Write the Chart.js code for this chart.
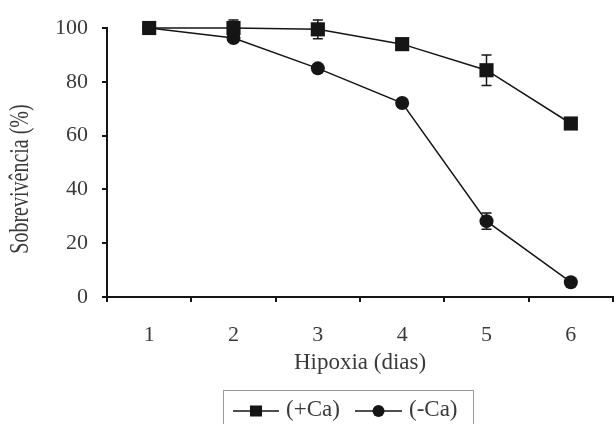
<!DOCTYPE html>
<html><head><meta charset="utf-8">
<script src="https://cdn.jsdelivr.net/npm/chart.js@4"></script>
<style>html,body{margin:0;padding:0;background:#fff}#wrap{width:616px;height:424px;position:relative}</style>
</head><body><div id="wrap"><canvas id="c" width="616" height="424"></canvas></div>
<script>
const categories = ['1', '2', '3', '4', '5', '6'];
const withCa = [100, 100, 99.5, 94, 84.3, 64.5];
const withCaErr = [0, 3, 3.5, 1, 5.7, 1];
const withoutCa = [100, 96.3, 85, 72.1, 28.2, 5.5];
const withoutCaErr = [0, 0, 0, 1, 3, 0];
const yTicks = [0, 20, 40, 60, 80, 100];
const seriesNames = ['(+Ca)', '(-Ca)'];
const xTitle = 'Hipoxia (dias)';
const yTitle = 'Sobrevivência (%)';

const FONT = "'Liberation Serif', 'Times New Roman', Times, serif";
const TXT = '#3a3a3a';
const INK = '#151515';

const errorBars = {
  id: 'errorBars',
  beforeDatasetsDraw(chart) {
    const ctx = chart.ctx, ys = chart.scales.y;
    chart.data.datasets.forEach((ds, di) => {
      const meta = chart.getDatasetMeta(di);
      (ds.errors || []).forEach((e, i) => {
        if (!e) return;
        const pt = meta.data[i];
        const top = ys.getPixelForValue(ds.data[i] + e);
        const bot = ys.getPixelForValue(ds.data[i] - e);
        ctx.save();
        ctx.strokeStyle = INK; ctx.lineWidth = 1.5;
        ctx.beginPath();
        ctx.moveTo(pt.x, top); ctx.lineTo(pt.x, bot);
        ctx.moveTo(pt.x - 5, top); ctx.lineTo(pt.x + 5, top);
        ctx.moveTo(pt.x - 5, bot); ctx.lineTo(pt.x + 5, bot);
        ctx.stroke();
        ctx.restore();
      });
    });
  }
};

const yTitlePlugin = {
  id: 'yTitlePlugin',
  afterDraw(chart) {
    const ctx = chart.ctx;
    ctx.save();
    ctx.translate(21, 179);
    ctx.rotate(-Math.PI / 2);
    ctx.scale(1, 1.35);
    ctx.font = '20px ' + FONT;
    ctx.fillStyle = TXT;
    ctx.textAlign = 'center';
    ctx.textBaseline = 'middle';
    ctx.fillText(yTitle, 0, 0);
    ctx.restore();
  }
};

const boxLegend = {
  id: 'boxLegend',
  afterDraw(chart) {
    const ctx = chart.ctx;
    ctx.save();
    ctx.strokeStyle = '#9a9a9a'; ctx.lineWidth = 1;
    ctx.strokeRect(223.5, 390.5, 250, 60);
    ctx.font = '23px ' + FONT;
    ctx.textBaseline = 'middle';
    const items = [
      {x0: 233, x1: 279, style: 'rect', tx: 286},
      {x0: 355, x1: 402, style: 'circle', tx: 409}
    ];
    const y = 411;
    items.forEach((it, i) => {
      ctx.strokeStyle = INK; ctx.lineWidth = 1.5;
      ctx.beginPath(); ctx.moveTo(it.x0, y); ctx.lineTo(it.x1, y); ctx.stroke();
      ctx.fillStyle = INK;
      const cx = (it.x0 + it.x1) / 2;
      if (it.style === 'rect') ctx.fillRect(cx - 6, y - 5.5, 12, 11);
      else { ctx.beginPath(); ctx.arc(cx, y, 6, 0, Math.PI * 2); ctx.fill(); }
      ctx.fillStyle = TXT;
      ctx.fillText(chart.data.datasets[i].label, it.tx, y - 1);
    });
    ctx.restore();
  }
};

function draw() {
  new Chart(document.getElementById('c'), {
    type: 'line',
    data: {
      labels: categories,
      datasets: [
        {label: seriesNames[0], data: withCa, errors: withCaErr, borderColor: INK, backgroundColor: INK,
         borderWidth: 1.5, pointStyle: 'rect', pointRadius: 10, pointBorderWidth: 0, tension: 0, clip: false},
        {label: seriesNames[1], data: withoutCa, errors: withoutCaErr, borderColor: INK, backgroundColor: INK,
         borderWidth: 1.5, pointStyle: 'circle', pointRadius: 7, pointBorderWidth: 0, tension: 0, clip: false}
      ]
    },
    options: {
      responsive: false,
      animation: false,
      devicePixelRatio: 1,
      layout: {autoPadding: false, padding: {top: 28, right: 3, bottom: 47, left: 0}},
      plugins: {legend: {display: false}, tooltip: {enabled: false}},
      scales: {
        x: {
          type: 'category',
          offset: true,
          grid: {offset: true, drawOnChartArea: false, drawTicks: true, tickLength: 5, color: INK, lineWidth: 2},
          border: {display: true, color: INK, width: 2},
          ticks: {font: {family: FONT, size: 22}, color: TXT, padding: 20, maxRotation: 0},
          title: {display: true, text: xTitle, font: {family: FONT, size: 23}, color: TXT, padding: {top: 0, bottom: 0}},
          afterFit(s) { s.height = 80; s.paddingLeft = 0; s.paddingRight = 0; }
        },
        y: {
          min: 0, max: 100,
          grid: {drawOnChartArea: false, drawTicks: true, tickLength: 5, color: INK, lineWidth: 2},
          border: {display: true, color: INK, width: 2},
          ticks: {font: {family: FONT, size: 22}, color: TXT, padding: 14},
          afterBuildTicks(s) { s.ticks = yTicks.map(v => ({value: v})); },
          title: {display: false},
          afterFit(s) { s.width = 107; }
        }
      }
    },
    plugins: [errorBars, yTitlePlugin, boxLegend]
  });
}
Promise.all([
  document.fonts.load("22px 'Liberation Serif'"),
  document.fonts.load("23px 'Liberation Serif'")
]).then(draw, draw);
</script>
</body></html>
